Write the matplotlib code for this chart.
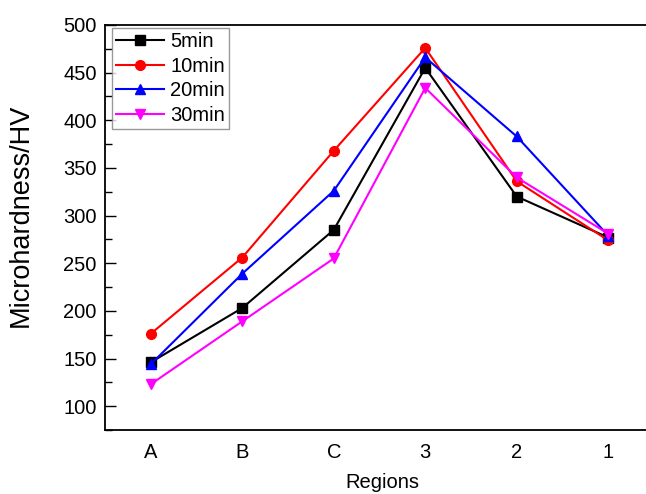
import matplotlib
matplotlib.use("Agg")
import matplotlib.pyplot as plt
from matplotlib.ticker import MultipleLocator

plt.rcParams['font.family'] = ['Liberation Sans', 'DejaVu Sans']

regions = ["A", "B", "C", "3", "2", "1"]
hv_5min = [146, 203, 285, 455, 320, 277]
hv_10min = [176, 256, 368, 476, 336, 274]
hv_20min = [144, 239, 326, 466, 383, 279]
hv_30min = [123, 189, 255, 434, 340, 281]

series = [
    ("5min", hv_5min, "black", "s"),
    ("10min", hv_10min, "red", "o"),
    ("20min", hv_20min, "blue", "^"),
    ("30min", hv_30min, "magenta", "v"),
]

fig = plt.figure(figsize=(6.46, 4.94), dpi=100)
# right spine sits just outside the picture, as in the original crop
ax = fig.add_axes([105 / 646, 1 - 430 / 494, 549 / 646, 405 / 494])

x = list(range(len(regions)))
for name, vals, col, mk in series:
    ax.plot(x, vals, color=col, marker=mk, markersize=7, linewidth=1.5, label=name)

ax.set_xlim(-0.5, len(regions) - 0.5)
ax.set_ylim(75, 500)
ax.set_xticks(x)
ax.set_xticklabels(regions)
ax.yaxis.set_major_locator(MultipleLocator(50))
ax.yaxis.set_minor_locator(MultipleLocator(25))
ax.set_yticks([100, 150, 200, 250, 300, 350, 400, 450, 500])
ax.tick_params(axis="y", which="major", direction="in", length=8, width=1, labelsize=14.5, pad=6)
ax.tick_params(axis="y", which="minor", direction="in", length=5, width=1)
ax.tick_params(axis="x", length=0, labelsize=14.5, pad=9)
for s in ax.spines.values():
    s.set_linewidth(1.3)

ax.set_xlabel("Regions", fontsize=14.5)
ax.xaxis.set_label_coords(0.505, -0.105)
ax.xaxis.label.set_va("top")
ax.set_ylabel("Microhardness/HV", fontsize=19.5)
ax.yaxis.set_label_coords(-0.13, 0.53)

leg = ax.legend(loc="upper left", bbox_to_anchor=(112 / 646, 1 - 28 / 494),
                bbox_transform=fig.transFigure, fontsize=14.5, frameon=True,
                fancybox=False, edgecolor="gray", borderpad=0.2, labelspacing=0.28,
                handlelength=2.4, handletextpad=0.3, borderaxespad=0)
leg.get_frame().set_linewidth(1.0)

fig.savefig("out.png", dpi=100)
